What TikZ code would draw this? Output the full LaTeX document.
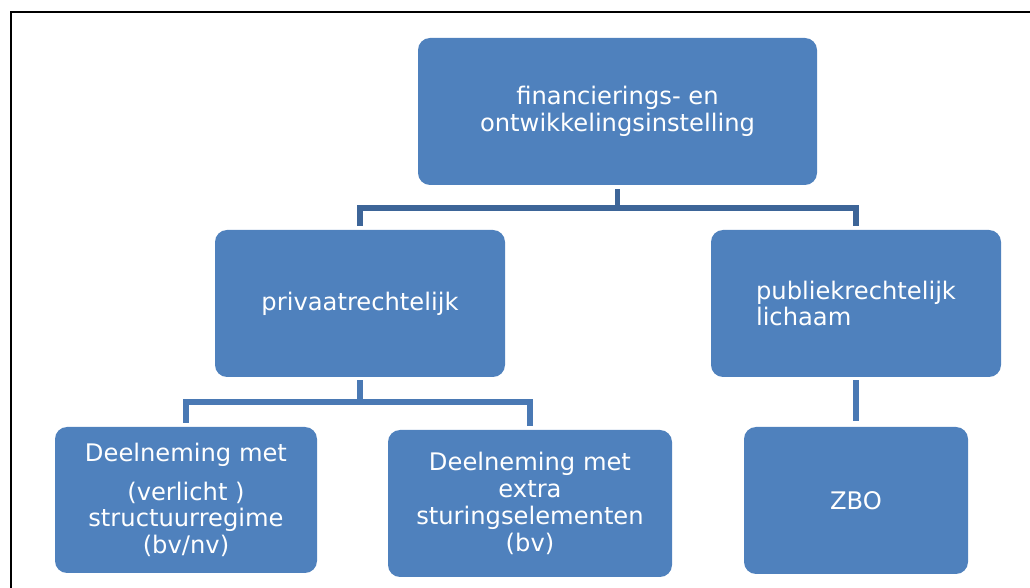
\documentclass[tikz,border=0pt]{standalone}
\usepackage{fontspec}
\setmainfont{DejaVu Sans}
\definecolor{boxblue}{HTML}{4F81BD}
\definecolor{linkdark}{HTML}{3D6598}
\definecolor{linkblue}{HTML}{4A79B4}
\begin{document}
\begin{tikzpicture}[x=0.5pt, y=-0.5pt,
  unit/.style={fill=boxblue, rounded corners=6pt, text=white, inner sep=0pt,
    font=\fontsize{12.1}{13.4}\selectfont},
  link/.style={draw=linkdark, line width=2.8pt},
  sublink/.style={draw=linkblue, line width=2.8pt}]
\useasboundingbox (0,0) rectangle (1030,588);
\draw [line width=1.3pt] (11,588) -- (11,12) -- (1030,12);
\node [unit, minimum width=199.5pt, minimum height=73.5pt, align=center] (top) at (617.5, 111.5) {financierings- en\\ontwikkelingsinstelling};
\node [unit, minimum width=145pt, minimum height=73.5pt, align=center] (priv) at (360, 303.5) {privaatrechtelijk};
\node [unit, minimum width=145pt, minimum height=73.5pt, align=left] (publ) at (856, 303.5) {publiekrechtelijk\\lichaam};
\node [unit, minimum width=131pt, minimum height=73pt, align=center] (d1) at (186, 500) {Deelneming met\\[6pt](verlicht )\\structuurregime\\(bv/nv)};
\node [unit, minimum width=142pt, minimum height=73.5pt, align=center] (d2) at (530, 503.5) {Deelneming met\\extra\\sturingselementen\\(bv)};
\node [unit, minimum width=112pt, minimum height=73.5pt, align=center] (zbo) at (856, 500.5) {ZBO};
\coordinate (bar1) at (617, 208);
\coordinate (bar2) at (360, 402);
\draw [link] ([yshift=-2pt]top.south) -- (top.south |- bar1);
\draw [link] ([yshift=2pt]priv.north) -- (priv.north |- bar1) -- (publ.north |- bar1) -- ([yshift=2pt]publ.north);
\draw [sublink] ([yshift=-1.5pt]priv.south) -- (priv.south |- bar2);
\draw [sublink] ([yshift=2pt]d1.north) -- (d1.north |- bar2) -- (d2.north |- bar2) -- ([yshift=2pt]d2.north);
\draw [sublink] ([yshift=-1.5pt]publ.south) -- ([yshift=3pt]zbo.north);
\end{tikzpicture}
\end{document}
